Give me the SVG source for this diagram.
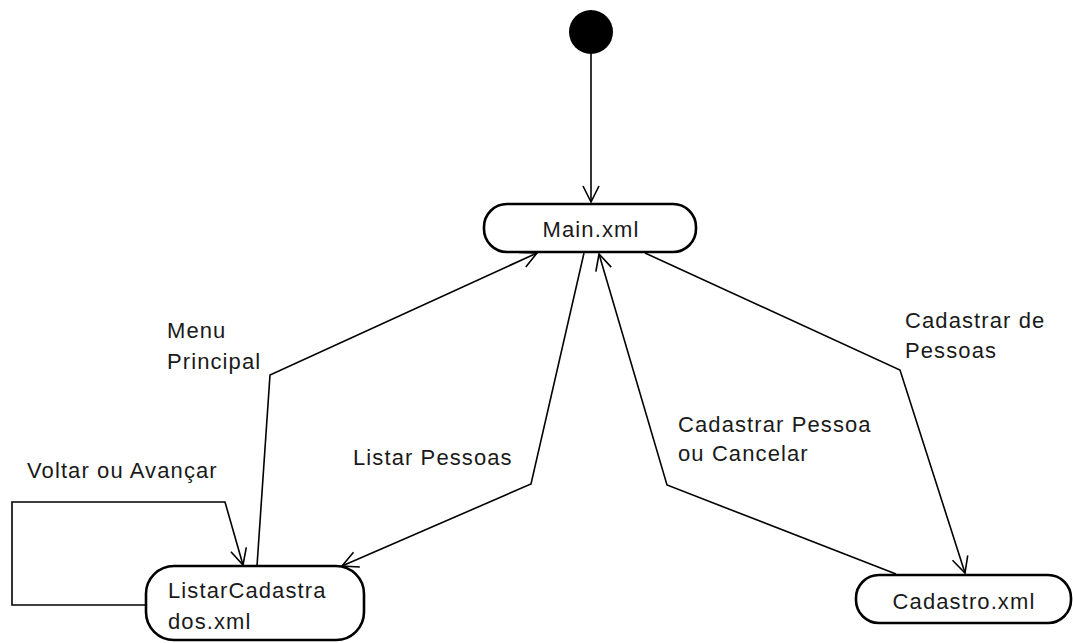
<svg xmlns="http://www.w3.org/2000/svg" width="1073" height="643" viewBox="0 0 1073 643">
<defs>
<marker id="arr" markerUnits="userSpaceOnUse" markerWidth="24" markerHeight="24" viewBox="-20 -12 24 24" refX="0" refY="0" orient="auto">
<path d="M -16 -8 L 0 0 L -16 8" fill="none" stroke="#000" stroke-width="1.6"/>
</marker>
</defs>
<style>
.node{fill:#fff;stroke:#000;stroke-width:2.6}
.edge{fill:none;stroke:#000;stroke-width:1.6;marker-end:url(#arr)}
text{font-family:"Liberation Sans",Arial,sans-serif;font-size:22px;fill:#1a1a1a;letter-spacing:1.1px}
</style>
<rect width="1073" height="643" fill="#fff"/>
<g id="connectors">
<path class="edge" d="M 591 54 L 591 202"/>
<path class="edge" d="M 257 566 L 270 375 L 537 253"/>
<path class="edge" d="M 584 253 L 531 484 L 342 566"/>
<path class="edge" d="M 896 574 L 667 485 L 599 254"/>
<path class="edge" d="M 645 253 L 900 370 L 965 573"/>
<path class="edge" d="M 145 605 L 12 605 L 12 502 L 225 502 L 243 565"/>
</g>
<g id="labels">
<text x="167" y="338">Menu</text>
<text x="167" y="369">Principal</text>
<text x="353" y="465">Listar Pessoas</text>
<text x="678" y="432">Cadastrar Pessoa</text>
<text x="678" y="461">ou Cancelar</text>
<text x="905" y="328">Cadastrar de</text>
<text x="905" y="358">Pessoas</text>
<text x="27" y="478">Voltar ou Avançar</text>
</g>
<g id="initial">
<circle cx="591" cy="32" r="22" fill="#000"/>
</g>
<g id="main">
<rect class="node" x="484" y="204" width="212" height="48" rx="23" ry="23"/>
<text x="591" y="237" text-anchor="middle">Main.xml</text>
</g>
<g id="listar">
<rect class="node" x="146" y="566" width="218" height="74" rx="28" ry="28"/>
<text x="168" y="598">ListarCadastra</text>
<text x="168" y="629">dos.xml</text>
</g>
<g id="cadastro">
<rect class="node" x="856" y="575" width="215" height="48" rx="23" ry="23"/>
<text x="964" y="609" text-anchor="middle">Cadastro.xml</text>
</g>
</svg>
